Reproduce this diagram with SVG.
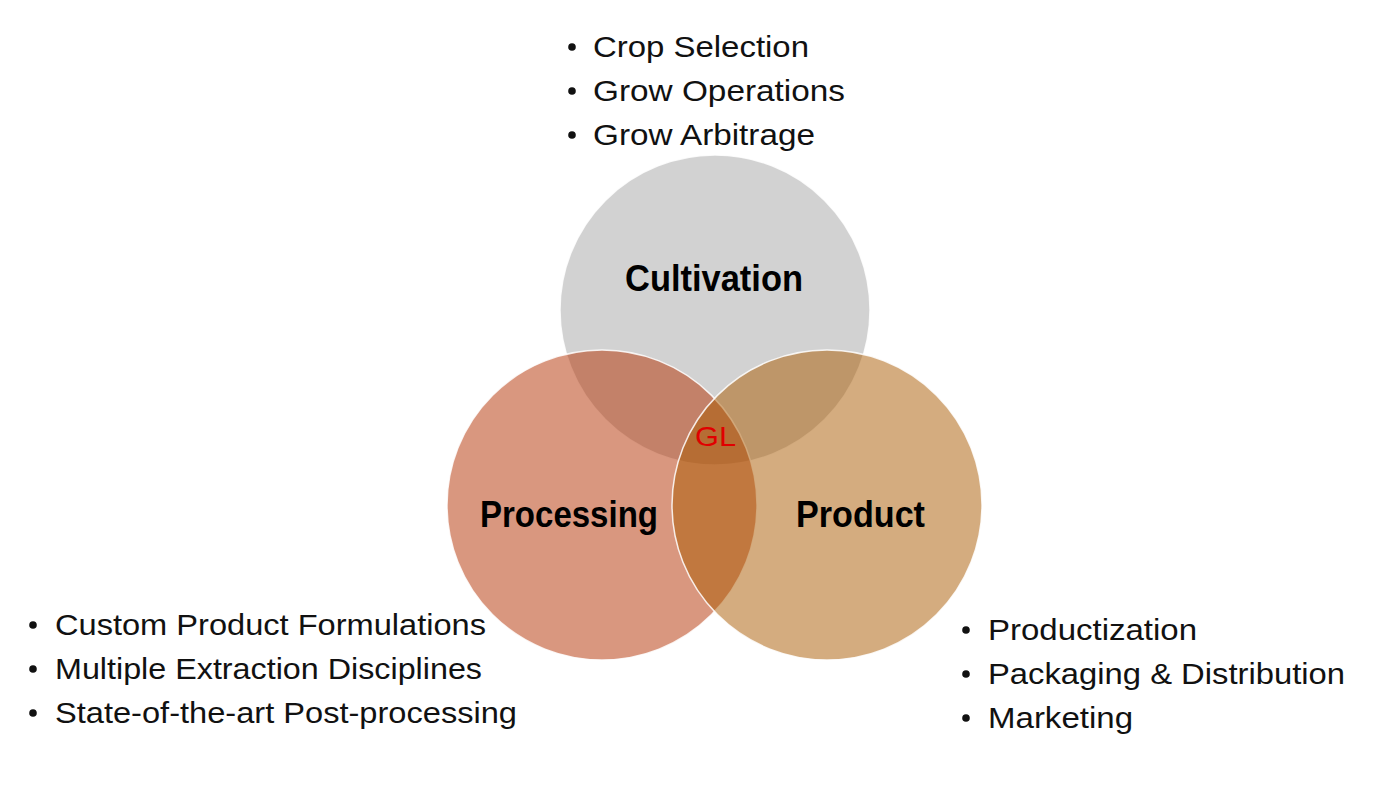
<svg xmlns="http://www.w3.org/2000/svg" width="1400" height="800" viewBox="0 0 1400 800">
  <style>
    .circle { stroke: #ffffff; stroke-width: 1.5; stroke-opacity: 0.85; fill-opacity: 0.5; }
    .title { font-family: "Liberation Sans", Arial, sans-serif; font-weight: bold; font-size: 36px; fill: #000000; }
    .item { font-family: "Liberation Sans", Arial, sans-serif; font-size: 29px; fill: #111111; }
    .bullet { fill: #111111; }
    .gl { font-family: "Liberation Sans", Arial, sans-serif; font-size: 28px; fill: #e00000; }
  </style>
  <rect width="1400" height="800" fill="#ffffff"/>

  <g id="cultivation">
    <circle class="circle" cx="715" cy="310" r="155" fill="#a5a5a5"/>
  </g>
  <g id="processing">
    <circle class="circle" cx="602" cy="505" r="155" fill="#b32f00"/>
  </g>
  <g id="product">
    <circle class="circle" cx="827" cy="505" r="155" fill="#a95a00"/>
  </g>

  <g id="cultivation-label">
    <text class="title" x="625" y="291" textLength="178" lengthAdjust="spacingAndGlyphs">Cultivation</text>
  </g>
  <g id="processing-label">
    <text class="title" x="480" y="527" textLength="178" lengthAdjust="spacingAndGlyphs">Processing</text>
  </g>
  <g id="product-label">
    <text class="title" x="796" y="527" textLength="129" lengthAdjust="spacingAndGlyphs">Product</text>
  </g>
  <g id="center-gl">
    <text class="gl" x="695" y="446" textLength="41" lengthAdjust="spacingAndGlyphs">GL</text>
  </g>

  <g id="cultivation-list">
    <circle class="bullet" cx="572" cy="47" r="3.8"/>
    <circle class="bullet" cx="572" cy="91" r="3.8"/>
    <circle class="bullet" cx="572" cy="135" r="3.8"/>
    <text class="item" x="593" y="57" textLength="216" lengthAdjust="spacingAndGlyphs">Crop Selection</text>
    <text class="item" x="593" y="101" textLength="252" lengthAdjust="spacingAndGlyphs">Grow Operations</text>
    <text class="item" x="593" y="145" textLength="222" lengthAdjust="spacingAndGlyphs">Grow Arbitrage</text>
  </g>

  <g id="processing-list">
    <circle class="bullet" cx="33" cy="625" r="3.8"/>
    <circle class="bullet" cx="33" cy="669" r="3.8"/>
    <circle class="bullet" cx="33" cy="713" r="3.8"/>
    <text class="item" x="55" y="635" textLength="431" lengthAdjust="spacingAndGlyphs">Custom Product Formulations</text>
    <text class="item" x="55" y="679" textLength="427" lengthAdjust="spacingAndGlyphs">Multiple Extraction Disciplines</text>
    <text class="item" x="55" y="723" textLength="462" lengthAdjust="spacingAndGlyphs">State-of-the-art Post-processing</text>
  </g>

  <g id="product-list">
    <circle class="bullet" cx="966" cy="630" r="3.8"/>
    <circle class="bullet" cx="966" cy="674" r="3.8"/>
    <circle class="bullet" cx="966" cy="718" r="3.8"/>
    <text class="item" x="988" y="640" textLength="209" lengthAdjust="spacingAndGlyphs">Productization</text>
    <text class="item" x="988" y="684" textLength="357" lengthAdjust="spacingAndGlyphs">Packaging &amp; Distribution</text>
    <text class="item" x="988" y="728" textLength="145" lengthAdjust="spacingAndGlyphs">Marketing</text>
  </g>
</svg>
